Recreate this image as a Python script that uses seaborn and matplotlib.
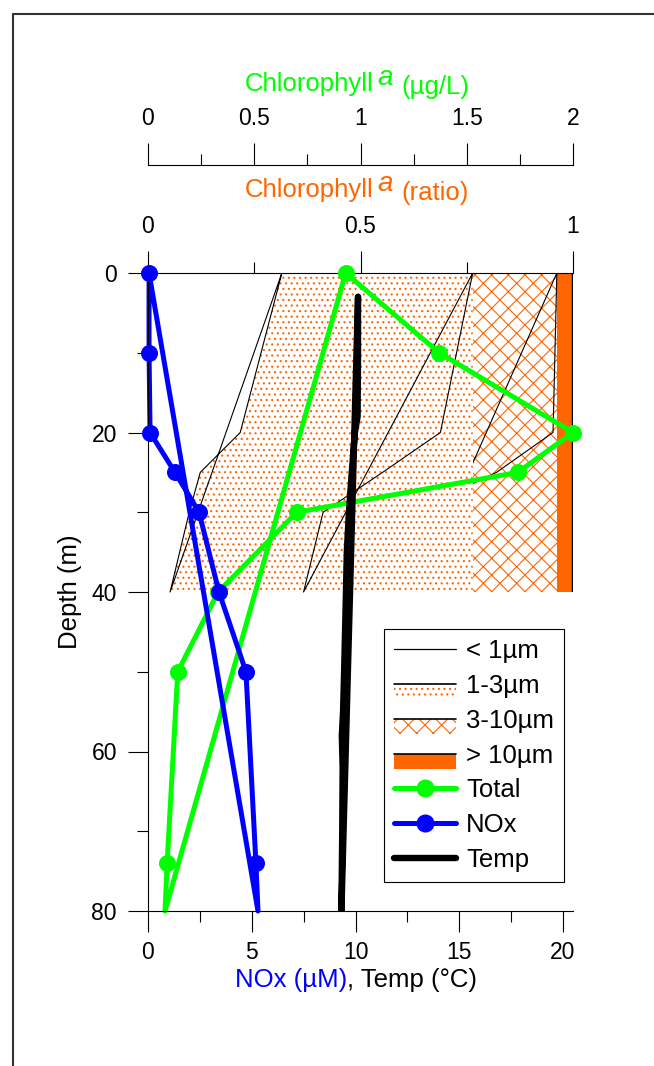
import numpy as np
import pandas as pd
import matplotlib
matplotlib.use('Agg')
import matplotlib.pyplot as plt
import seaborn as sns
from matplotlib.lines import Line2D
from matplotlib.patches import Patch, Rectangle
from matplotlib.legend_handler import HandlerBase
from matplotlib.ticker import MultipleLocator, FuncFormatter

sns.set_style('ticks', rc={'axes.edgecolor': 'black', 'xtick.color': 'black', 'ytick.color': 'black',
                           'text.color': 'black', 'axes.labelcolor': 'black'})
plt.rcParams['font.family'] = ['Liberation Sans', 'DejaVu Sans']
plt.rcParams['hatch.linewidth'] = 0.8
plt.rcParams['hatch.color'] = '#FF6600'

GREEN = '#00FF00'
BLUE = '#0000FF'
ORANGE = '#FF6600'

# size fractionated chlorophyll a, cumulative ratio (0-40 m)
size_depth = [0, 20, 25, 30, 40]
cum_lt1 = [0.315, 0.217, 0.123, 0.097, 0.052]
cum_lt3 = [0.764, 0.688, 0.552, 0.412, 0.366]
cum_lt10 = [0.962, 0.953, 0.82, 0.62, 0.63]
cum_all = [1.0, 1.0, 1.0, 1.0, 1.0]

# total chlorophyll a (ug/L), last value (80 m) has no marker
chl_depth = [0, 10, 20, 25, 30, 40, 50, 74, 80]
chl_total = [0.93, 1.37, 2.0, 1.74, 0.70, 0.33, 0.14, 0.09, 0.08]

# NOx (uM)
nox_depth = [0, 10, 20, 25, 30, 40, 50, 74, 80]
nox = [0.05, 0.05, 0.1, 1.3, 2.46, 3.42, 4.72, 5.2, 5.3]

# temperature (C)
temp_depth = [3, 10, 18, 20, 25, 30, 35, 40, 50, 55, 58, 62, 70, 80]
temp = [10.12, 10.12, 10.1, 9.97, 9.82, 9.68, 9.58, 9.54, 9.45, 9.4, 9.34, 9.38, 9.36, 9.32]

labels = ['< 1µm', '1-3µm', '3-10µm', '> 10µm', 'Total', 'NOx', 'Temp']


def closed(v):
    # the original traces jump back to their first point
    return list(v) + [v[0]]


def fmt(v, p):
    return f'{v:g}'


fig = plt.figure(figsize=(6.54, 10.66), dpi=100)
ax = fig.add_axes([148/654, 1-911/1066, 425/654, 638/1066])
ax_r = ax.twiny()
ax_ug = ax.twiny()
ax_r.set_zorder(1)
ax_ug.set_zorder(2)
ax.set_zorder(3)
ax.patch.set_visible(False)
ax_r.patch.set_visible(True)
ax_r.patch.set_facecolor('white')

# size fraction fills
ax_r.fill_betweenx(size_depth, cum_lt1, cum_lt3[0], facecolor='white', edgecolor=ORANGE,
                   hatch='...', linewidth=0)
ax_r.fill_betweenx(size_depth, cum_lt3[0], cum_lt10[0], facecolor='white', edgecolor=ORANGE,
                   hatch='xx', linewidth=0)
ax_r.fill_betweenx(size_depth, cum_lt10[0], cum_all[0], facecolor=ORANGE, edgecolor=ORANGE,
                   linewidth=0)

for vals, lw in [(cum_lt1, 0.8), (cum_lt3, 0.8), (cum_lt10, 0.8), (cum_all, 1.6)]:
    sns.lineplot(x=closed(vals), y=closed(size_depth), sort=False, estimator=None, orient='y',
                 color='black', lw=lw, ax=ax_r)
clip = Rectangle((cum_lt3[0], 0), cum_all[0] - cum_lt3[0], size_depth[-1], transform=ax_r.transData)
for ln in ax_r.lines[2:]:
    ln.set_clip_path(clip)

# total chlorophyll
sns.lineplot(x=closed(chl_total), y=closed(chl_depth), sort=False, estimator=None, orient='y',
             color=GREEN, lw=3.6, ax=ax_ug, solid_joinstyle='round', solid_capstyle='round',
             clip_on=False)
sns.scatterplot(x=chl_total[:-1], y=chl_depth[:-1], color=GREEN, s=150, linewidth=0, ax=ax_ug,
                clip_on=False)

# NOx and temperature
sns.lineplot(x=closed(nox), y=closed(nox_depth), sort=False, estimator=None, orient='y',
             color=BLUE, lw=3.6, ax=ax, solid_joinstyle='round', solid_capstyle='round',
             clip_on=False)
sns.scatterplot(x=nox[:-1], y=nox_depth[:-1], color=BLUE, s=150, linewidth=0, ax=ax, zorder=4,
                clip_on=False)
sns.lineplot(x=closed(temp), y=closed(temp_depth), sort=False, estimator=None, orient='y',
             color='black', lw=4.6, ax=ax, solid_joinstyle='round', solid_capstyle='round')

# axes
ax.set_ylim(80, 0)
ax.set_xlim(0, 20.48)
ax_r.set_xlim(0, 1)
ax_ug.set_xlim(0, 2)
for a in (ax, ax_r, ax_ug):
    a.set_xlabel('')
    a.set_ylabel('')
    for s in a.spines.values():
        s.set_visible(False)
        s.set_linewidth(0.8)
ax.spines['left'].set_visible(True)
ax.spines['bottom'].set_visible(True)
ax_r.spines['top'].set_visible(True)
ax_ug.spines['top'].set_visible(True)
ax_ug.spines['top'].set_position(('outward', 77.8))

ax.xaxis.set_major_locator(MultipleLocator(5))
ax.xaxis.set_minor_locator(MultipleLocator(2.5))
ax.yaxis.set_major_locator(MultipleLocator(20))
ax.yaxis.set_minor_locator(MultipleLocator(10))
for a in (ax_r, ax_ug):
    a.xaxis.set_major_locator(MultipleLocator(0.5))
    a.xaxis.set_minor_locator(MultipleLocator(0.25))
    a.xaxis.set_major_formatter(FuncFormatter(fmt))
ax.xaxis.set_major_formatter(FuncFormatter(fmt))

ax.tick_params(axis='x', which='major', direction='out', length=15, width=0.8, pad=6.5, labelsize=16.5)
ax.tick_params(axis='x', which='minor', direction='out', length=8, width=0.8)
ax.tick_params(axis='y', which='major', direction='out', length=14.4, width=0.8, pad=8, labelsize=16.5)
ax.tick_params(axis='y', which='minor', direction='out', length=8, width=0.8)
for a in (ax_r, ax_ug):
    a.tick_params(axis='x', which='major', direction='out', length=15.8, width=0.8, pad=9.4, labelsize=16.5)
    a.tick_params(axis='x', which='minor', direction='out', length=8, width=0.8)

# axis titles
fig.text(70/654, 1-592/1066, 'Depth (m)', rotation=90, ha='center', va='center', fontsize=18.5)


def chain(x, y, parts):
    prev = None
    for txt, color, style, size, dx, dy in parts:
        if prev is None:
            prev = fig.text(x, y, txt, color=color, fontstyle=style, fontsize=size,
                            ha='left', va='baseline')
        else:
            prev = ax.annotate(txt, xy=(1, 0), xycoords=prev, xytext=(dx, dy),
                               textcoords='offset points', color=color, fontstyle=style,
                               fontsize=size, ha='left', va='bottom', annotation_clip=False)


chain(245/654, 1-91/1066, [('Chlorophyll', GREEN, 'normal', 18.5, 0, 0),
                           ('a', GREEN, 'italic', 20, 2.5, 3.6),
                           ('(µg/L)', GREEN, 'normal', 18.5, 6, -5.5)])
chain(245/654, 1-197/1066, [('Chlorophyll', ORANGE, 'normal', 18.5, 0, 0),
                            ('a', ORANGE, 'italic', 20, 2.5, 3.6),
                            ('(ratio)', ORANGE, 'normal', 18.5, 6, -5.5)])
chain(235/654, 1-987/1066, [('NOx (µM)', BLUE, 'normal', 18.5, 0, 0),
                            (', Temp (°C)', 'black', 'normal', 18.5, 0, 0)])


# legend
class BarHandler(HandlerBase):
    def create_artists(self, legend, orig, xd, yd, w, h, fontsize, trans):
        mid = h / 2 - yd
        rect = Rectangle((-xd, mid - 11), w, 11, facecolor=orig.get_facecolor(),
                         edgecolor=orig.get_edgecolor(), hatch=orig.get_hatch(), lw=0,
                         transform=trans)
        line = Line2D([-xd, -xd + w], [mid, mid], color='black', lw=1.2, transform=trans)
        return [rect, line]


handles = [
    Line2D([], [], color='black', lw=0.9),
    Patch(facecolor='white', edgecolor=ORANGE, hatch='...'),
    Patch(facecolor='white', edgecolor=ORANGE, hatch='xx'),
    Patch(facecolor=ORANGE, edgecolor=ORANGE),
    Line2D([], [], color=GREEN, lw=3.6, marker='o', ms=12, solid_capstyle='round'),
    Line2D([], [], color=BLUE, lw=3.6, marker='o', ms=12, solid_capstyle='round'),
    Line2D([], [], color='black', lw=4.6, solid_capstyle='round'),
]
leg = ax.legend(handles, labels, handler_map={Patch: BarHandler()}, loc='upper left',
                bbox_to_anchor=(0.555, 0.442), borderaxespad=0, fontsize=18.5,
                handlelength=2.4, handletextpad=0.4, labelspacing=0.42, borderpad=0.4,
                fancybox=False, framealpha=1, edgecolor='black')
leg.get_frame().set_linewidth(0.8)

# page frame
fig.add_artist(Line2D([13/654, 1], [1-14/1066, 1-14/1066], transform=fig.transFigure,
                      color='#333333', lw=1.5))
fig.add_artist(Line2D([13/654, 13/654], [0, 1-14/1066], transform=fig.transFigure,
                      color='#333333', lw=1.5))

fig.savefig('out.png', dpi=100)
